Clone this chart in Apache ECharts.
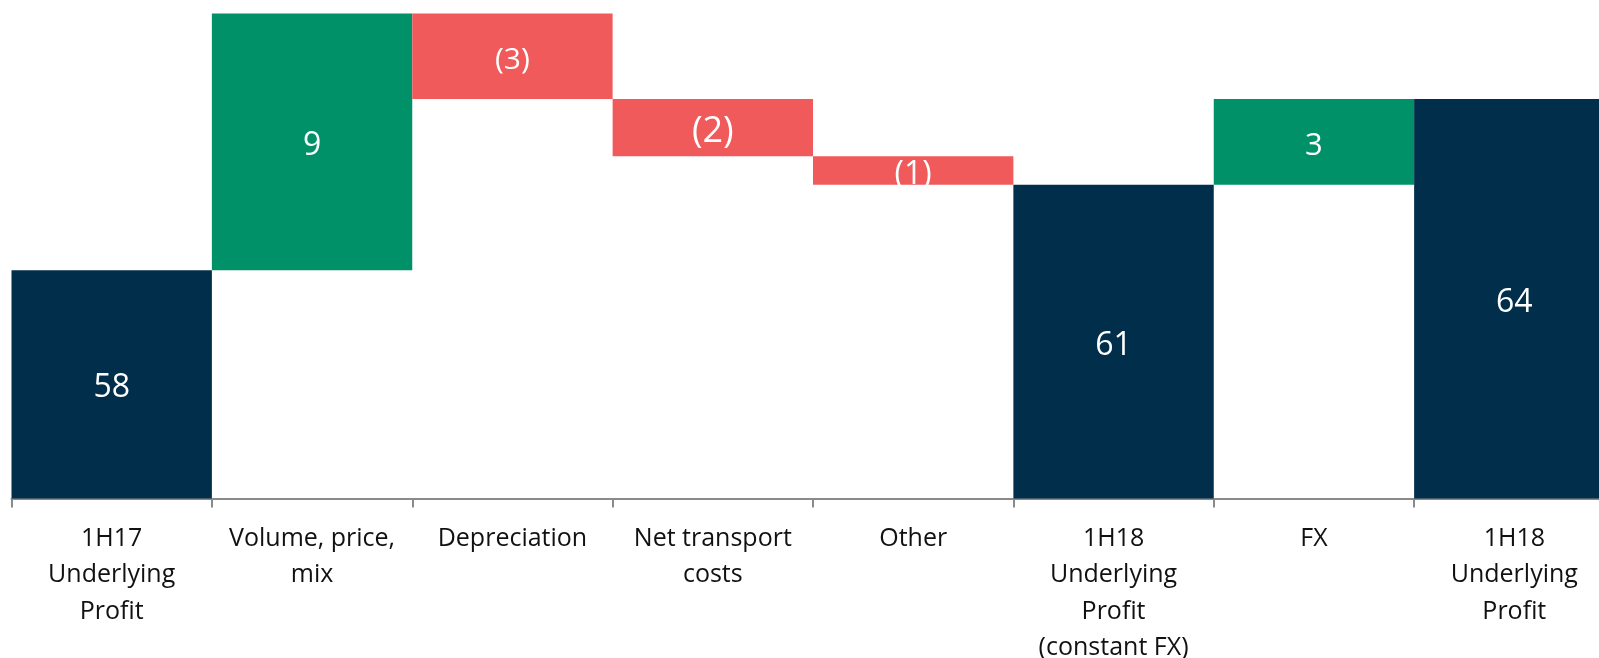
<!DOCTYPE html>
<html>
<head>
<meta charset="utf-8">
<script src="https://cdn.jsdelivr.net/npm/echarts@6/dist/echarts.min.js"></script>
<style>
  html, body { margin: 0; padding: 0; background: #fff; }
  #chart { width: 1599px; height: 658px; }
</style>
</head>
<body>
<div id="chart"></div>
<script>
// categories (tick labels) and step values of the bridge
var categories = [
  '1H17\nUnderlying\nProfit',
  'Volume, price,\nmix',
  'Depreciation',
  'Net transport\ncosts',
  'Other',
  '1H18\nUnderlying\nProfit\n(constant FX)',
  'FX',
  '1H18\nUnderlying\nProfit'
];
var values = [58, 9, -3, -2, -1, 61, 3, 64];
var kinds = ['total', 'up', 'down', 'down', 'down', 'total', 'up', 'total'];
// label sizes as they appear in the original slide
var labelSizes = [32, 32, 30, 36, 32, 32, 31, 32];

var colors = { total: '#012E4B', up: '#009168', down: '#F05A5A' };

// build invisible base + visible step from the values
var baseData = [];
var stepData = [];
var running = 0;
values.forEach(function (v, i) {
  var k = kinds[i];
  var base;
  if (k === 'total') {
    base = 0;
    running = v;
  } else if (k === 'up') {
    base = running;
    running += v;
  } else {
    running += v;
    base = running;
  }
  baseData.push(base);
  stepData.push({
    value: Math.abs(v),
    itemStyle: { color: colors[k] },
    label: { fontSize: labelSizes[i] }
  });
});

var chart = echarts.init(document.getElementById('chart'));
chart.setOption({
  animation: false,
  grid: {
    left: 11.5,
    top: 13.5,
    width: 1603,
    height: 485,
    containLabel: false,
    outerBoundsMode: 'none'
  },
  xAxis: {
    type: 'category',
    data: categories,
    axisLine: { lineStyle: { color: '#8a8a8a', width: 2 } },
    axisTick: { show: true, length: 9, lineStyle: { color: '#8a8a8a', width: 2 } },
    axisLabel: {
      interval: 0,
      margin: 22,
      color: '#111',
      fontFamily: 'Open Sans',
      fontSize: 25,
      lineHeight: 36.5,
      align: 'center'
    }
  },
  yAxis: {
    type: 'value',
    min: 50,
    max: 67,
    show: false,
    splitLine: { show: false }
  },
  series: [
    {
      name: 'base',
      type: 'bar',
      stack: 'w',
      barCategoryGap: 0,
      barWidth: '100%',
      itemStyle: { color: 'transparent' },
      silent: true,
      data: baseData
    },
    {
      name: 'step',
      type: 'bar',
      stack: 'w',
      barCategoryGap: 0,
      barWidth: '100%',
      label: {
        show: true,
        position: 'inside',
        offset: [0, 4],
        color: '#fff',
        fontFamily: 'Open Sans',
        formatter: function (p) {
          var v = values[p.dataIndex];
          return v < 0 ? '(' + (-v) + ')' : String(v);
        }
      },
      data: stepData
    }
  ]
});
</script>
</body>
</html>
